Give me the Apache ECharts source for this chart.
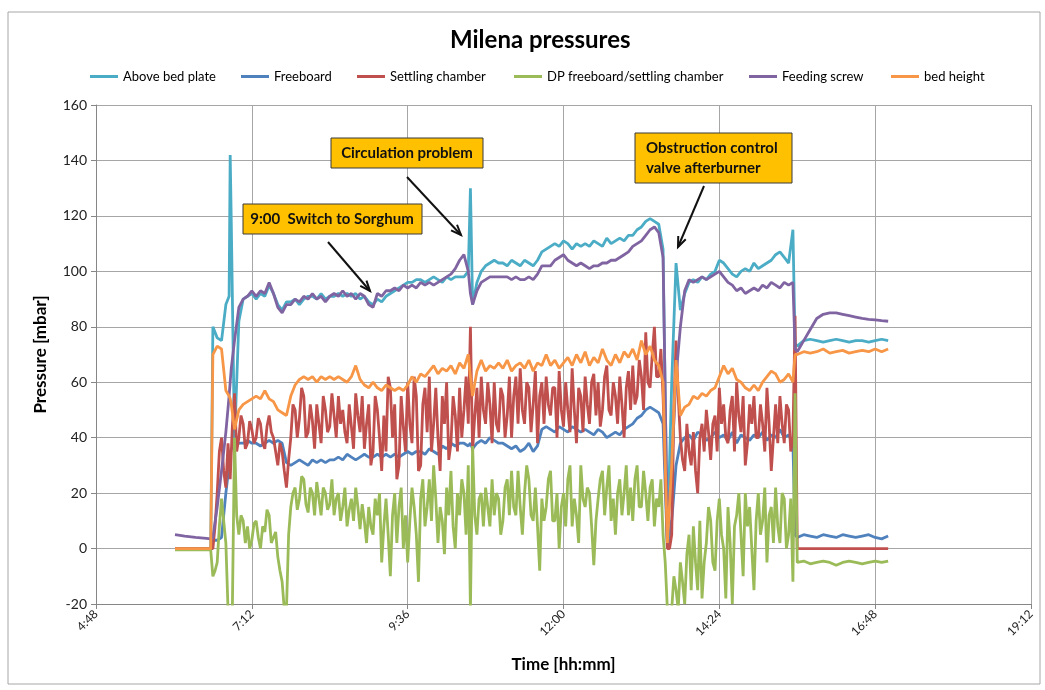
<!DOCTYPE html>
<html>
<head>
<meta charset="utf-8">
<script src="https://cdn.jsdelivr.net/npm/echarts@6/dist/echarts.min.js"></script>
<style>
html,body{margin:0;padding:0;background:#fff;}
#chart{width:1045px;height:690px;}
</style>
</head>
<body>
<div id="chart"></div>
<script>
// Time in minutes after midnight (smooth-ish series)
const times = [
361,370,380,390,394,
396,400,404,408,411,412,413,416,420,424,
428,432,436,440,444,448,452,456,460,464,
468,472,476,480,484,488,492,496,500,504,
508,512,516,520,524,528,532,536,540,544,
548,552,556,560,564,568,572,576,580,584,
588,592,596,600,604,608,612,616,620,624,
628,632,634,636,640,644,648,652,656,660,
664,668,672,676,680,684,688,692,696,700,
704,708,712,716,720,724,728,732,736,740,
744,748,752,756,760,764,768,772,776,780,
784,788,792,796,800,804,808,812,816,820,
824,828,832,836,840,844,848,852,856,860,
864,868,872,876,880,884,888,892,896,900,
904,908,912,916,920,924,928,932,934,
936,942,948,954,960,966,972,978,984,990,
996,1002,1008,1014,1020];

// Denser time sampling for the very noisy series
const noisyTimes = [
361,370,380,390,394,
396,398,400,402,404,406,408,410,412,414,
416,418,420,422,424,426,428,430,432,434,
436,438,440,442,444,446,448,450,452,454,
456,458,460,462,464,466,468,470,472,474,
476,478,480,482,484,486,488,490,492,494,
496,498,500,502,504,506,508,510,512,514,
516,518,520,522,524,526,528,530,532,534,
536,538,540,542,544,546,548,550,552,554,
556,558,560,562,564,566,568,570,572,574,
576,578,580,582,584,586,588,590,592,594,
596,598,600,602,604,606,608,610,612,614,
616,618,620,622,624,626,628,630,632,634,
636,638,640,642,644,646,648,650,652,654,
656,658,660,662,664,666,668,670,672,674,
676,678,680,682,684,686,688,690,692,694,
696,698,700,702,704,706,708,710,712,714,
716,718,720,722,724,726,728,730,732,734,
736,738,740,742,744,746,748,750,752,754,
756,758,760,762,764,766,768,770,772,774,
776,778,780,782,784,786,788,790,792,794,
796,798,800,802,804,806,808,810,812,814,
816,818,820,822,824,826,828,830,832,834,
836,838,840,842,844,846,848,850,852,854,
856,858,860,862,864,866,868,870,872,874,
876,878,880,882,884,886,888,890,892,894,
896,898,900,902,904,906,908,910,912,914,
916,918,920,922,924,926,928,930,932,934,
936,942,948,954,960,966,972,978,984,990,
996,1002,1008,1014,1020];

const aboveBedPlate = [
0,0,0,0,0,
80,76,75,88,91,142,118,38,82,90,
91,92,90,92,91,95,92,88,86,89,
89,90,88,90,91,91,90,92,90,91,
91,92,91,92,91,92,90,91,89,88,
90,89,91,92,93,94,95,96,96,97,
97,96,97,98,97,96,98,97,98,98,
98,100,130,88,96,100,102,103,104,103,
103,102,104,103,102,104,103,102,104,107,
108,109,110,109,111,110,108,110,109,110,
109,111,110,109,112,110,111,112,111,113,
113,115,116,118,119,118,117,108,2,60,
103,86,92,96,97,96,98,97,99,100,
104,103,101,99,98,100,101,100,103,101,
102,103,104,106,107,105,103,115,74,
73,75,75.5,75,74.5,75,75.5,75,74.5,75,
75,74.5,75,75.5,75];

const freeboard = [
0,0,0,0,0,
3,3,4,20,30,34,36,37,38,38,
39,38,38,37,38,39,38,39,38,31,
30,31,32,31,30,32,31,32,31,32,
32,33,32,34,33,32,33,34,33,33,
34,33,34,33,34,33,34,35,34,35,
35,34,36,35,34,37,36,38,37,38,
38,37,38,36,38,39,38,40,39,38,
38,37,36,37,35,36,38,35,37,43,
44,43,42,44,43,42,44,43,42,43,
42,41,43,42,40,41,42,41,43,44,
45,47,48,50,51,50,49,45,0,10,
30,38,40,41,39,42,41,39,40,42,
40,41,39,42,38,41,40,39,41,40,
42,39,41,40,43,40,41,38,5,
4,5,4.5,4,5,4.5,4,5,4.5,4,
4.5,5,4,3.5,4.5];

const settlingChamber = [
0,0,0,0,0,
0,8,20,35,40,28,22,38,25,44,
56,35,40,48,45,36,38,46,43,38,
40,47,45,38,36,44,48,42,40,35,
30,38,35,28,22,32,40,52,50,40,
47,58,55,40,42,52,46,36,52,45,
38,55,50,42,44,56,48,40,55,45,
50,42,38,52,44,36,56,48,42,55,
36,45,52,30,35,55,50,40,28,48,
35,62,58,40,52,25,30,55,44,35,
60,45,38,62,55,28,30,52,58,42,
62,35,45,58,40,28,55,45,60,32,
38,55,48,35,58,40,50,62,45,80,
35,48,58,40,62,50,45,60,52,38,
60,45,42,58,55,40,48,62,40,55,
62,45,65,50,45,60,58,42,52,64,
38,55,60,45,62,52,48,58,58,40,
64,50,44,60,50,42,65,50,38,58,
55,42,62,52,45,60,63,48,60,44,
50,62,66,50,48,60,55,45,62,52,
40,58,64,50,66,52,55,68,62,50,
78,60,58,70,80,62,62,72,55,30,
0,0,5,50,75,55,40,32,28,45,
35,30,42,28,20,40,45,35,50,42,
32,45,48,35,58,45,52,40,38,50,
55,35,60,48,42,55,30,38,52,45,
55,40,40,52,45,35,58,45,28,40,
52,38,55,45,38,52,50,35,40,84,
0,0,0,0,0,0,0,0,0,0,
0,0,0,0,0];

const dpFreeboardSettling = [
-0.5,-0.5,-0.5,-0.5,-0.5,
-10,-8,-5,8,18,10,2,-22,-22,-22,
40,12,5,12,10,2,8,0,3,9,
10,4,0,8,6,14,12,2,4,6,
-3,-8,-12,-22,-22,5,15,20,22,14,
18,26,25,16,13,22,20,12,24,18,
12,22,20,14,16,25,12,18,20,10,
15,22,8,14,18,10,22,15,7,16,
10,2,15,8,5,18,12,20,-5,8,
18,5,-10,12,20,2,15,22,0,12,
-5,10,22,15,5,-12,18,25,8,15,
25,10,30,18,2,15,10,-2,22,12,
28,8,0,20,12,25,20,5,30,-22,
37,12,5,18,20,8,22,15,8,25,
12,20,18,5,10,22,25,12,28,15,
12,28,15,5,20,30,25,12,10,22,
8,-8,18,10,15,25,28,10,10,20,
0,15,20,8,25,30,8,18,12,2,
30,18,15,22,20,8,-6,10,18,25,
28,12,22,30,10,18,5,20,25,12,
20,30,12,22,10,25,30,15,15,28,
20,10,22,25,8,18,15,25,5,-5,
-22,-22,-22,-10,-15,-22,-5,-12,-20,-2,
5,-15,8,-5,-15,10,-18,-5,2,15,
10,-5,-8,10,18,5,0,-18,15,2,
-20,8,12,20,5,-10,20,8,15,0,
-15,10,20,5,10,22,-5,12,15,2,
22,8,2,20,18,0,5,18,-12,56,
-5,-4.5,-5.5,-5,-4.5,-5,-6,-5,-4.5,-5,
-5.5,-5,-4.5,-5,-4.5];

const feedingScrew = [
5,4.5,4,3.7,3.5,
4,15,28,42,55,60,65,75,87,90,
91,93,91,93,92,96,92,87,85,88,
88,90,89,91,90,92,90,91,89,91,
92,91,93,91,92,90,92,91,88,87,
92,91,93,93,94,93,95,94,95,94,
96,95,96,95,96,97,98,99,101,104,
106,100,92,88,93,96,97,98,98,98,
98,98,97,98,97,97,98,97,99,102,
102,102,104,105,106,104,103,102,103,102,
101,102,102,103,103,104,104,105,106,107,
109,110,111,113,115,116,114,105,5,30,
62,80,93,97,96,97,98,97,98,99,
100,98,96,95,93,94,92,93,94,93,
95,94,96,95,94,96,95,96,72,
71,75,79,83,84.5,85,85,84.5,84,83.5,
83,82.7,82.5,82.2,82];

const bedHeight = [
0,0,0,0,0,
70,73,72,57,55,54,52,43,50,52,
53,54,55,54,57,54,53,50,49,48,
55,59,61,62,61,62,60,62,61,62,
61,62,61,60,62,66,61,59,58,60,
58,57,59,58,57,58,57,59,62,60,
63,62,64,66,63,65,64,66,63,67,
65,70,62,55,64,68,64,66,65,67,
65,68,64,66,67,65,68,64,67,66,
70,66,68,65,67,69,66,70,67,71,
66,69,67,72,68,66,70,67,71,69,
72,68,75,70,73,68,66,60,2,30,
68,48,51,52,55,54,56,55,57,58,
62,66,63,65,61,60,58,57,59,57,
60,62,64,63,60,61,63,60,70,
70,71,70.5,71,72,70.5,71,71.5,70.5,71,
71.5,71,72,71,72];

const seriesNames = ['Above bed plate','Freeboard','Settling chamber','DP freeboard/settling chamber','Feeding screw','bed height'];
const seriesValues = [aboveBedPlate, freeboard, settlingChamber, dpFreeboardSettling, feedingScrew, bedHeight];
const seriesTimes = [times, times, noisyTimes, noisyTimes, times, times];
const seriesColors = ['#4BACC6','#4F81BD','#C0504D','#9BBB59','#8064A2','#F79646'];

const xTickMin = 288, xTickMax = 1152, xTickStep = 144; // 4:48 .. 19:12
const yMin = -20, yMax = 160, yStep = 20;

const FONT = 'Lato, "Open Sans", sans-serif';
const fmtTime = m => Math.floor(m / 60) + ':' + String(Math.round(m % 60)).padStart(2, '0');

const legendLefts = [85, 236, 352, 509, 744, 886];

function arrow(x1, y1, x2, y2) {
  const ang = Math.atan2(y2 - y1, x2 - x1);
  const L = 11, a = 0.38;
  const p1 = [x2 - L * Math.cos(ang - a), y2 - L * Math.sin(ang - a)];
  const p2 = [x2 - L * Math.cos(ang + a), y2 - L * Math.sin(ang + a)];
  return [
    { type: 'line', shape: { x1, y1, x2, y2 }, style: { stroke: '#111', lineWidth: 2 }, z: 100 },
    { type: 'polyline', shape: { points: [p1, [x2, y2], p2] }, style: { stroke: '#111', lineWidth: 2, fill: null }, z: 100 }
  ];
}
function box(x, y, w, h) {
  return { type: 'rect', shape: { x, y, width: w, height: h }, style: { fill: '#FFC000', stroke: '#3a3a3a', lineWidth: 1 }, z: 100 };
}
function label(text, x, y, align) {
  return { type: 'text', style: { text, x, y, fill: '#111', font: 'bold 15px ' + FONT, align: align || 'center', verticalAlign: 'middle' }, z: 101 };
}

const chart = echarts.init(document.getElementById('chart'), null, { renderer: 'canvas' });
chart.setOption({
  animation: false,
  backgroundColor: '#fff',
  title: {
    text: 'Milena pressures', left: 445, top: 23,
    textStyle: { fontFamily: FONT, fontSize: 24, fontWeight: 'bold', color: '#000' }
  },
  legend: seriesNames.map((n, i) => ({
    data: [n], left: legendLefts[i], top: 65, icon: 'rect', itemWidth: 28, itemHeight: 3,
    textStyle: { fontFamily: FONT, fontSize: 13, color: '#000' }
  })),
  grid: { left: 96, right: 14, top: 105, bottom: 86 },
  xAxis: {
    type: 'value', min: xTickMin, max: xTickMax, interval: xTickStep,
    name: 'Time [hh:mm]', nameLocation: 'middle', nameGap: 52,
    nameTextStyle: { fontFamily: FONT, fontSize: 17, fontWeight: 'bold', color: '#000' },
    axisLine: { show: true, onZero: false, lineStyle: { color: '#868686' } },
    axisTick: { show: true, length: 5, lineStyle: { color: '#868686' } },
    axisLabel: { formatter: v => fmtTime(v), rotate: 45, fontFamily: FONT, fontSize: 12, color: '#222', margin: 8 },
    splitLine: { show: true, lineStyle: { color: '#A6A6A6', width: 1 } }
  },
  yAxis: {
    type: 'value', min: yMin, max: yMax, interval: yStep,
    name: 'Pressure [mbar]', nameLocation: 'middle', nameGap: 47, nameRotate: 90,
    nameTextStyle: { fontFamily: FONT, fontSize: 17, fontWeight: 'bold', color: '#000' },
    axisLine: { show: true, lineStyle: { color: '#868686' } },
    axisTick: { show: true, length: 5, lineStyle: { color: '#868686' } },
    axisLabel: { fontFamily: FONT, fontSize: 14, color: '#222', margin: 9 },
    splitLine: { show: true, lineStyle: { color: '#A6A6A6', width: 1 } }
  },
  series: seriesNames.map((n, i) => ({
    name: n, type: 'line', showSymbol: false, symbol: 'none',
    data: seriesTimes[i].map((t, k) => [t, seriesValues[i][k]]),
    lineStyle: { color: seriesColors[i], width: 2.8 },
    itemStyle: { color: seriesColors[i] },
    clip: true
  })),
  graphic: [
    { type: 'rect', shape: { x: 8, y: 12, width: 1032, height: 672 }, style: { fill: null, stroke: '#A6A6A6', lineWidth: 1 }, z: -1, silent: true },
    box(243, 204, 179, 30), label('9:00  Switch to Sorghum', 332, 219),
    ...arrow(328, 242, 370, 291),
    box(331, 138, 152, 30), label('Circulation problem', 407, 153),
    ...arrow(407, 177, 461, 235),
    box(635, 133, 157, 50), label('Obstruction control', 646, 148, 'left'), label('valve afterburner', 646, 168, 'left'),
    ...arrow(704, 186, 678, 247)
  ]
});
</script>
</body>
</html>
